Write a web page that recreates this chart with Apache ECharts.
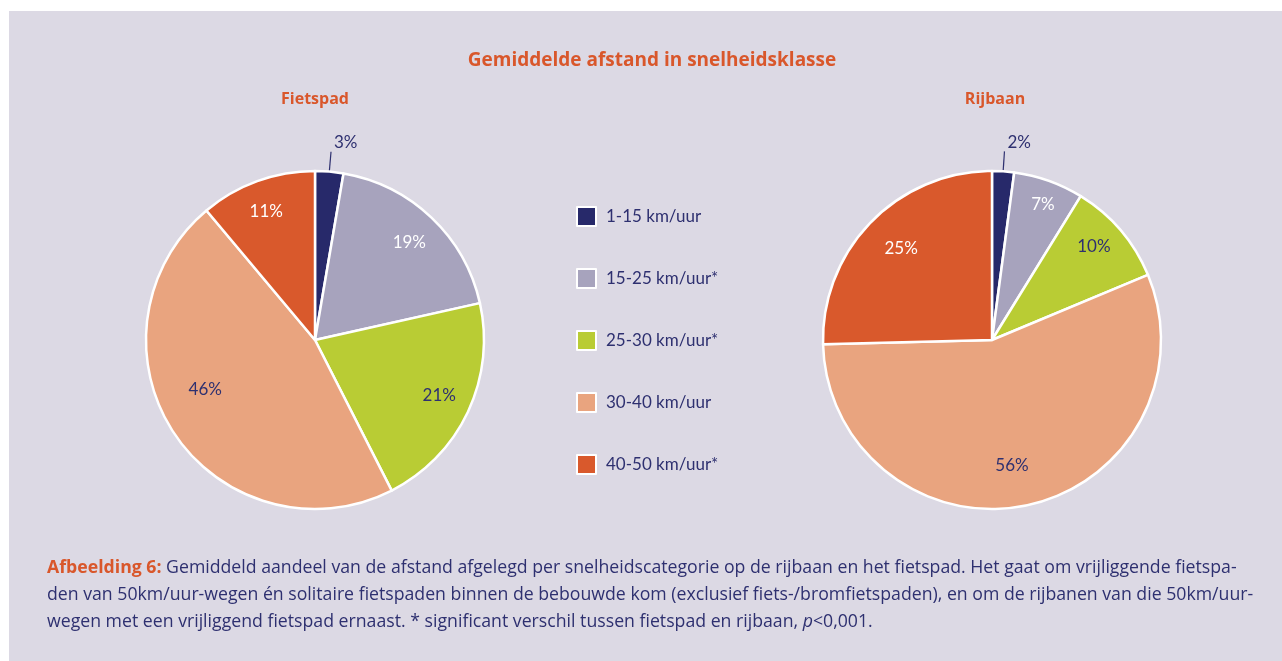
<!DOCTYPE html>
<html>
<head>
<meta charset="utf-8">
<script src="https://cdn.jsdelivr.net/npm/echarts@6/dist/echarts.min.js"></script>
<style>
  html, body { margin: 0; padding: 0; background: #ffffff; }
  #panel { position: absolute; left: 9px; top: 11px; width: 1273px; height: 650px; background: #dcd9e4; }
  #chart { position: absolute; left: 0; top: 0; width: 1282px; height: 661px; }
</style>
</head>
<body>
<div id="panel"></div>
<div id="chart"></div>
<script>
// ---- data ----
const categories = ['1-15 km/uur', '15-25 km/uur*', '25-30 km/uur*', '30-40 km/uur', '40-50 km/uur*'];
const fietspadValues = [2.7, 18.8, 21.0, 46.4, 11.1];
const rijbaanValues = [2.1, 6.7, 9.9, 55.9, 25.4];
const chartTitle = 'Gemiddelde afstand in snelheidsklasse';
const pieTitles = ['Fietspad', 'Rijbaan'];
const captionLines = [
  '{b|Afbeelding 6:} Gemiddeld aandeel van de afstand afgelegd per snelheidscategorie op de rijbaan en het fietspad. Het gaat om vrijliggende fietspa-',
  'den van 50km/uur-wegen én solitaire fietspaden binnen de bebouwde kom (exclusief fiets-/bromfietspaden), en om de rijbanen van die 50km/uur-',
  'wegen met een vrijliggend fietspad ernaast. * significant verschil tussen fietspad en rijbaan, {i|p}<0,001.'
];

// ---- styles ----
const FONT = 'Lato';
const HFONT = 'Open Sans';
const NAVY = '#2e3070';
const ORANGE = '#d9572b';
const colors = ['#27296a', '#a7a3bd', '#b9cc34', '#e9a47f', '#d9592c'];
const labelColors = [NAVY, '#ffffff', NAVY, NAVY, '#ffffff'];
const R = 169;
const CAP = 17.7;
// small nudges of the in-slice percentage labels (style only)
const fietspadLabelNudge = [[1, -9], [2, 0], [3, -2], [2, -24], [-3, -3]];
const rijbaanLabelNudge = [[1, -9], [6, -9], [0, -6], [-8, -6], [5, 2]];

function pieSeries(values, center, nudge) {
  const base = {
    type: 'pie',
    center: center,
    radius: [0, R],
    startAngle: 90,
    clockwise: true,
    avoidLabelOverlap: false,
    silent: true,
    label: { show: false },
    labelLine: { show: false },
    itemStyle: { borderColor: '#ffffff', borderWidth: 2.5 },
    emphasis: { disabled: true },
    data: categories.map((c, i) => ({ name: c, value: values[i] }))
  };
  const overlay = {
    type: 'pie',
    center: center,
    radius: [R * 0.55, R],
    startAngle: 90,
    clockwise: true,
    avoidLabelOverlap: false,
    silent: true,
    itemStyle: { color: 'rgba(0,0,0,0)', borderWidth: 0 },
    emphasis: { disabled: true },
    data: categories.map((c, i) => ({
      name: c,
      value: values[i],
      label: i === 0 ? {
        show: true, position: 'outside', color: labelColors[i],
        distanceToLabelLine: 2, offset: nudge[i]
      } : {
        show: true, position: 'inside', color: labelColors[i], offset: nudge[i]
      },
      labelLine: i === 0 ? {
        show: true, length: 20, length2: 0, smooth: false,
        lineStyle: { color: NAVY, width: 1.2 }
      } : { show: false }
    })),
    label: {
      fontFamily: FONT, fontSize: 17,
      formatter: p => Math.round(p.value) + '%'
    }
  };
  return [base, overlay];
}

const chart = echarts.init(document.getElementById('chart'), null, { renderer: 'canvas' });
chart.setOption({
  backgroundColor: 'transparent',
  color: colors,
  animation: false,
  title: [
    { text: chartTitle, left: 652, top: 51, textAlign: 'center', padding: 0,
      textStyle: { fontFamily: HFONT, fontSize: 19, fontWeight: 'bold', color: ORANGE } },
    { text: pieTitles[0], left: 315, top: 91, textAlign: 'center', padding: 0,
      textStyle: { fontFamily: HFONT, fontSize: 16, fontWeight: 'bold', color: ORANGE } },
    { text: pieTitles[1], left: 995, top: 91, textAlign: 'center', padding: 0,
      textStyle: { fontFamily: HFONT, fontSize: 16, fontWeight: 'bold', color: ORANGE } }
  ],
  legend: {
    data: categories,
    orient: 'vertical',
    left: 576,
    top: 206,
    padding: 0,
    itemWidth: 19,
    itemHeight: 19,
    itemGap: 41,
    icon: 'rect',
    selectedMode: false,
    textStyle: { fontFamily: FONT, fontSize: 17, color: NAVY, padding: [0, 0, 0, 5] }
  },
  series: [
    ...pieSeries(fietspadValues, [315, 340], fietspadLabelNudge),
    ...pieSeries(rijbaanValues, [992, 340], rijbaanLabelNudge)
  ],
  graphic: captionLines.map((line, i) => ({
    type: 'text',
    left: 47,
    top: 559 + i * 27,
    silent: true,
    style: {
      text: line,
      fontFamily: HFONT,
      fontSize: CAP,
      fill: NAVY,
      rich: {
        b: { fontFamily: HFONT, fontSize: CAP, fontWeight: 'bold', fill: ORANGE, color: ORANGE },
        i: { fontFamily: HFONT, fontSize: CAP, fontStyle: 'italic', fill: NAVY, color: NAVY }
      }
    }
  }))
});
</script>
</body>
</html>
